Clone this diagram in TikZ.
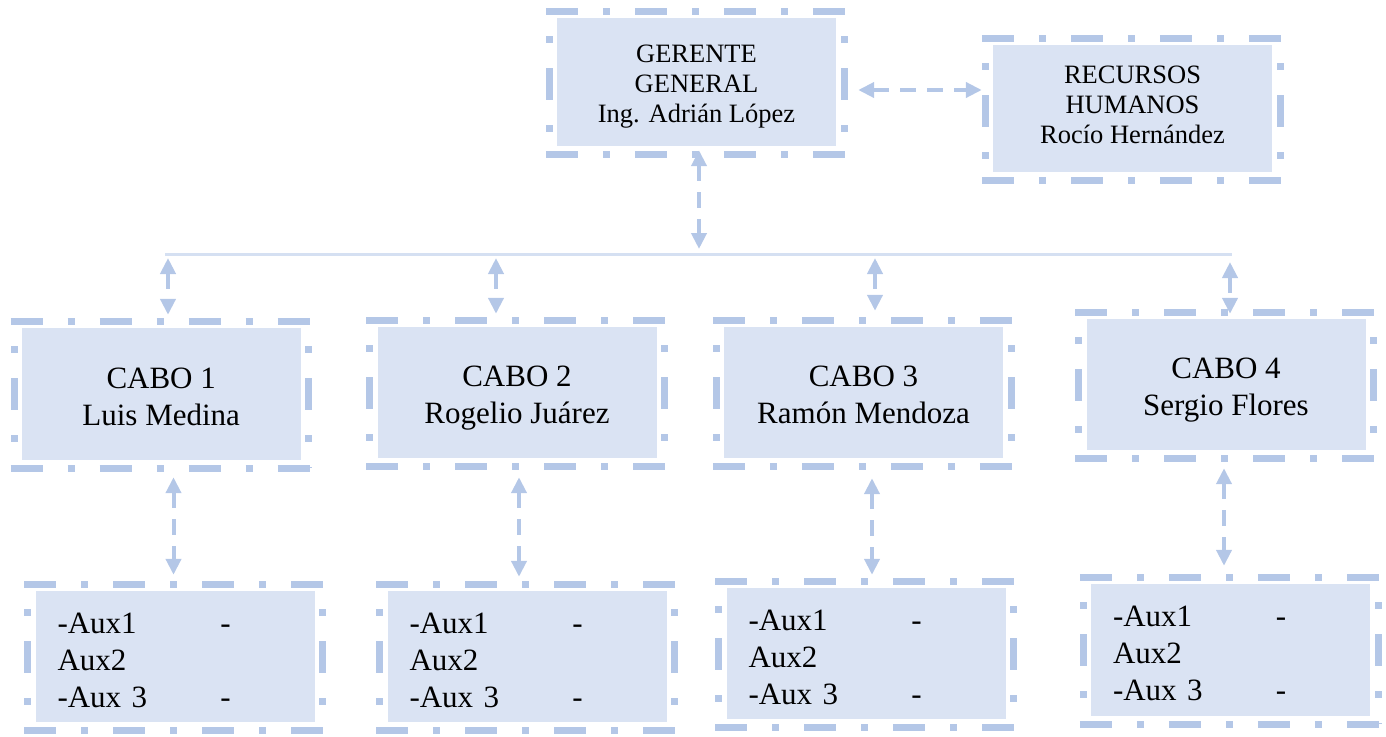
\documentclass[tikz,border=0pt]{standalone}
\usepackage{fontspec}
\setmainfont{Liberation Serif}
\usetikzlibrary{arrows.meta}
\definecolor{boxc}{HTML}{DAE3F3}
\definecolor{frc}{HTML}{B4C7E7}
\definecolor{busc}{HTML}{D5E0F2}
\tikzset{
 fillbox/.style={fill=boxc, draw=none, inner sep=0pt, minimum width=279pt, minimum height=131pt, align=center},
 topfont/.style={font=\fontsize{26.5}{30}\selectfont},
 cabofont/.style={font=\fontsize{31}{37}\selectfont},
 auxbox/.style={fillbox, align=left, text width=235pt, inner xsep=22pt, inner ysep=0pt, font=\fontsize{31}{37}\selectfont},
 frmh/.style={draw=frc, line width=7pt, dash pattern=on 32pt off 25pt on 7pt off 25pt},
 frmv/.style={frmh, dash phase=32pt},
 conn/.style={draw=frc, line width=4pt, dash pattern=on 16pt off 11pt, {Triangle[length=16pt,width=15pt]}-{Triangle[length=16pt,width=15pt]}},
 bus/.style={draw=busc, line width=3pt},
}
\newcommand\myframe[1]{%
 \draw[frmh] ([shift={(-11,-6.5)}]#1.north west) -- ([shift={(11.5,-6.5)}]#1.north east);
 \draw[frmh] ([shift={(-11,8)}]#1.south west) -- ([shift={(11.5,8)}]#1.south east);
 \draw[frmv] ([shift={(-7.5,-6.5)}]#1.north west) -- ([shift={(-7.5,8)}]#1.south west);
 \draw[frmv] ([shift={(8,-6.5)}]#1.north east) -- ([shift={(8,8)}]#1.south east);
}
\newcommand\auxtext{\rule{0pt}{30pt}\makebox[163pt][l]{-Aux1}-\\Aux2\\\makebox[163pt][l]{-Aux 3}-\rule[-3pt]{0pt}{3pt}}
\begin{document}
\begin{tikzpicture}[x=1pt,y=-1pt]
\useasboundingbox (0,0) rectangle (1386,736);
% boxes
\node[fillbox, topfont, minimum height=128pt] (g) at (696.5,82) {\rule{0pt}{28pt}GERENTE\\GENERAL\\Ing. Adrián López\rule[-8pt]{0pt}{8pt}};
\node[fillbox, topfont, minimum height=127pt] (r) at (1132.5,108.5) {\rule{0pt}{22pt}RECURSOS\\HUMANOS\\Rocío Hernández\rule[-13pt]{0pt}{13pt}};
\node[fillbox, cabofont, minimum height=132pt] (c1) at (161.2,394) {\rule{0pt}{33pt}CABO 1\\Luis Medina\rule[-8pt]{0pt}{8pt}};
\node[fillbox, cabofont] (c2) at (517,392.5) {\rule{0pt}{33pt}CABO 2\\Rogelio Juárez\rule[-8pt]{0pt}{8pt}};
\node[fillbox, cabofont] (c3) at (863.5,392.5) {\rule{0pt}{33pt}CABO 3\\Ramón Mendoza\rule[-8pt]{0pt}{8pt}};
\node[fillbox, cabofont] (c4) at (1226,384.5) {\rule{0pt}{33pt}CABO 4\\Sergio Flores\rule[-8pt]{0pt}{8pt}};
\node[auxbox] (a1) at (175,656.5) {\auxtext};
\node[auxbox] (a2) at (527,656.5) {\auxtext};
\node[auxbox] (a3) at (866,653.5) {\auxtext};
\node[auxbox, minimum height=132pt] (a4) at (1230.5,650) {\auxtext};
% frames
\myframe{g}\myframe{r}
\myframe{c1}\myframe{c2}\myframe{c3}\myframe{c4}
\myframe{a1}\myframe{a2}\myframe{a3}\myframe{a4}
% bus line
\coordinate (busL) at (165,254);
\coordinate (busR) at (1232,254);
\draw[bus] (busL) -- (busR);
\coordinate (gbus) at (699,249);
\coordinate (t1) at (168,258);
\coordinate (t2) at (496,258);
\coordinate (t3) at (875,258);
\coordinate (t4) at (1230,262);
% connectors
\draw[conn] ([shift={(2.5,4)}]g.south) -- (gbus);
\draw[conn] ([shift={(22,8)}]g.east) -- ([shift={(-11,-18.5)}]r.west);
\draw[conn] (t1) -- ([shift={(6.8,-13)}]c1.north);
\draw[conn] (t2) -- ([shift={(-21,-13)}]c2.north);
\draw[conn] (t3) -- ([shift={(11.5,-16)}]c3.north);
\draw[conn] (t4) -- ([shift={(4,-5)}]c4.north);
\draw[conn] ([shift={(12.3,17)}]c1.south) -- ([shift={(-1.5,-16)}]a1.north);
\draw[conn] ([shift={(2,19)}]c2.south) -- ([shift={(-8,-14)}]a2.north);
\draw[conn] ([shift={(8.5,20)}]c3.south) -- ([shift={(6,-13)}]a3.north);
\draw[conn] ([shift={(-2,18)}]c4.south) -- ([shift={(-6.5,-18)}]a4.north);
\end{tikzpicture}
\end{document}
